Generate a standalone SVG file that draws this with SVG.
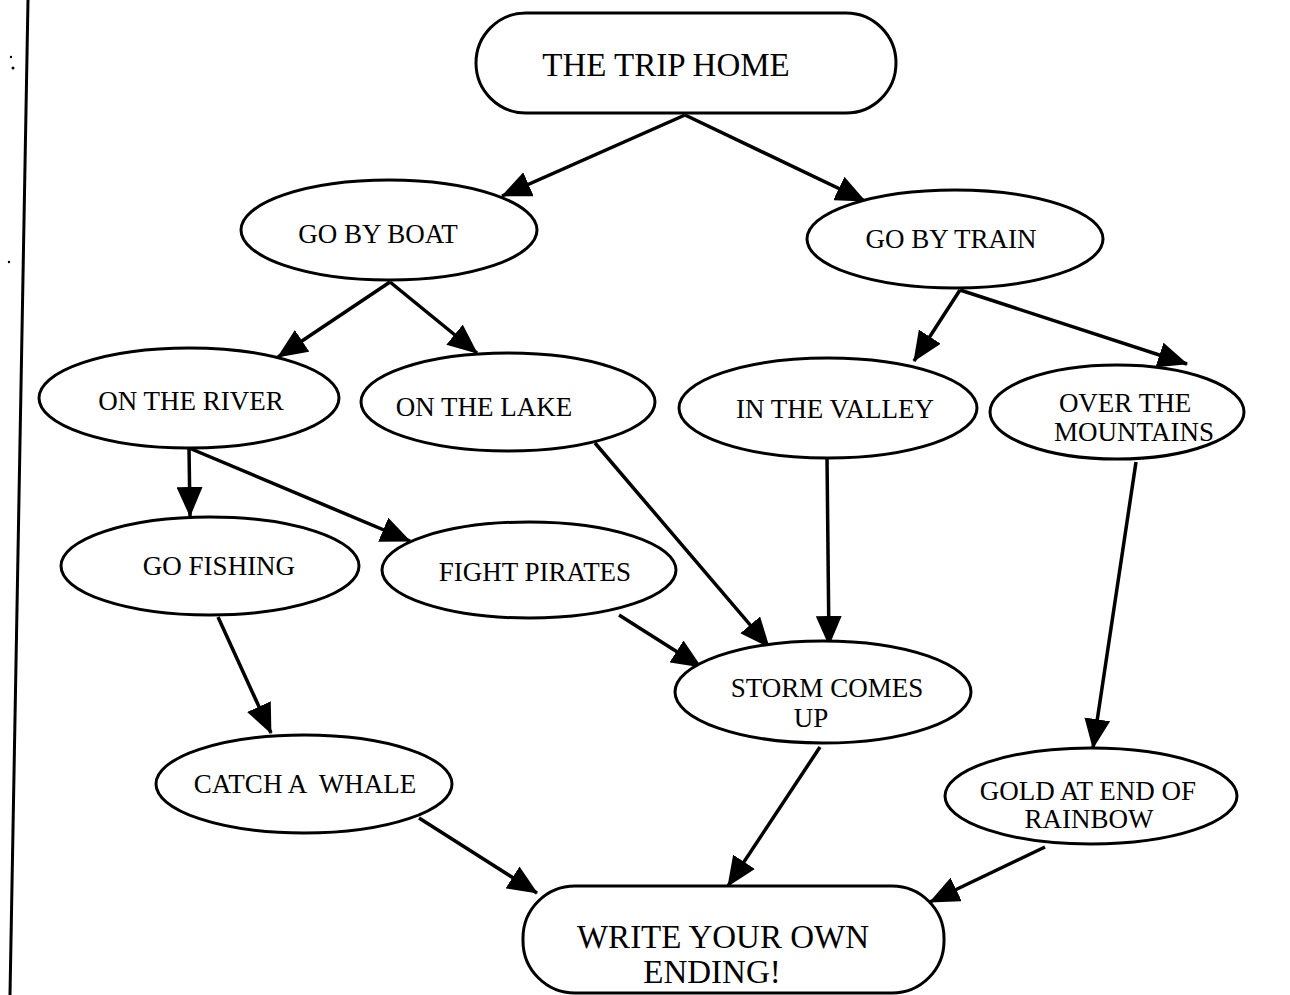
<svg xmlns="http://www.w3.org/2000/svg" width="1290" height="995" viewBox="0 0 1290 995">
<style>
.n{fill:#fff;stroke:#000;stroke-width:3}
.t{font-family:"Liberation Serif","DejaVu Serif","Times New Roman",serif;font-size:27px;fill:#000;text-anchor:middle}
.big{font-size:33px}
.c line{stroke:#000;stroke-width:3.5;marker-end:url(#ah)}
</style>
<defs>
<marker id="ah" viewBox="0 0 30 26" refX="29" refY="13" markerWidth="30" markerHeight="26" markerUnits="userSpaceOnUse" orient="auto">
<path d="M0,0 L30,13 L0,26 z" fill="#000"/>
</marker>
</defs>
<rect width="1290" height="995" fill="#fff"/>
<line x1="28" y1="0" x2="10" y2="995" stroke="#000" stroke-width="3"/>
<circle cx="11" cy="57" r="1.2" fill="#000"/>
<circle cx="13" cy="68" r="1.5" fill="#000"/>
<circle cx="9" cy="262" r="1.2" fill="#000"/>

<g class="c" id="connectors">
<line x1="685" y1="115" x2="502" y2="196"/>
<line x1="685" y1="115" x2="865" y2="201"/>
<line x1="390" y1="282" x2="278" y2="357"/>
<line x1="390" y1="282" x2="477" y2="353"/>
<line x1="960" y1="290" x2="914" y2="361"/>
<line x1="960" y1="290" x2="1187" y2="364"/>
<line x1="189" y1="448" x2="190" y2="516"/>
<line x1="189" y1="448" x2="410" y2="541"/>
<line x1="595" y1="443" x2="769" y2="647"/>
<line x1="827" y1="457" x2="829" y2="645"/>
<line x1="619" y1="615" x2="701" y2="667"/>
<line x1="1136" y1="462" x2="1093" y2="748"/>
<line x1="218" y1="617" x2="271" y2="733"/>
<line x1="419" y1="818" x2="537" y2="893"/>
<line x1="820" y1="747" x2="728" y2="886"/>
<line x1="1045" y1="847" x2="930" y2="902"/>
</g>

<g id="trip-home">
<rect class="n" x="476" y="13" width="420" height="100" rx="50"/>
<text class="t big" x="666" y="76">THE TRIP HOME</text>
</g>
<g id="go-by-boat">
<ellipse class="n" cx="389" cy="230" rx="148" ry="50"/>
<text class="t" x="378" y="243">GO BY BOAT</text>
</g>
<g id="go-by-train">
<ellipse class="n" cx="955" cy="239" rx="148" ry="49"/>
<text class="t" x="951" y="248">GO BY TRAIN</text>
</g>
<g id="on-the-river">
<ellipse class="n" cx="189" cy="398" rx="150" ry="50"/>
<text class="t" x="191" y="410">ON THE RIVER</text>
</g>
<g id="on-the-lake">
<ellipse class="n" cx="508" cy="402" rx="147" ry="49"/>
<text class="t" x="484" y="416">ON THE LAKE</text>
</g>
<g id="in-the-valley">
<ellipse class="n" cx="828" cy="408" rx="149" ry="50"/>
<text class="t" x="835" y="418">IN THE VALLEY</text>
</g>
<g id="over-the-mountains">
<ellipse class="n" cx="1117" cy="412" rx="127" ry="47"/>
<text class="t" x="1125" y="412">OVER THE</text>
<text class="t" x="1134" y="441">MOUNTAINS</text>
</g>
<g id="go-fishing">
<ellipse class="n" cx="210" cy="566" rx="149" ry="49"/>
<text class="t" x="219" y="575">GO FISHING</text>
</g>
<g id="fight-pirates">
<ellipse class="n" cx="529" cy="570" rx="147" ry="48"/>
<text class="t" x="535" y="581">FIGHT PIRATES</text>
</g>
<g id="storm-comes-up">
<ellipse class="n" cx="823" cy="692" rx="148" ry="51"/>
<text class="t" x="827" y="697">STORM COMES</text>
<text class="t" x="811" y="727">UP</text>
</g>
<g id="catch-a-whale">
<ellipse class="n" cx="304" cy="784" rx="148" ry="49"/>
<text class="t" x="305" y="793" xml:space="preserve">CATCH A  WHALE</text>
</g>
<g id="gold-at-end-of-rainbow">
<ellipse class="n" cx="1091" cy="796" rx="146" ry="48"/>
<text class="t" x="1088" y="800">GOLD AT END OF</text>
<text class="t" x="1089" y="828">RAINBOW</text>
</g>
<g id="write-your-own-ending">
<rect class="n" x="523" y="886" width="421" height="107" rx="52"/>
<text class="t big" x="723" y="948">WRITE YOUR OWN</text>
<text class="t big" x="712" y="983">ENDING!</text>
</g>
</svg>
